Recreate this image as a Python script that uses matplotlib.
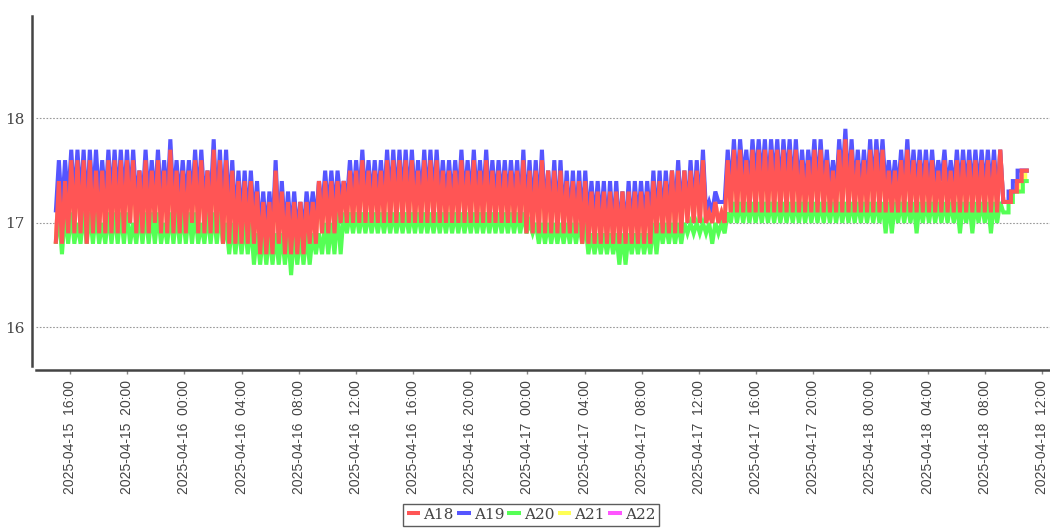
import numpy as np
import matplotlib
matplotlib.use("Agg")
import matplotlib.pyplot as plt

# ---------------- data ----------------
series_names = ["A18", "A19", "A20", "A21", "A22"]
series_colors = ["#FF5555", "#5555FF", "#55FF55", "#FFFF55", "#FF55FF"]

cycle_start = "2025-04-15T15:00"
cycle_minutes = 26          # heating cycle length

a19_peak = [17.6, 17.6, 17.7, 17.7, 17.7, 17.7, 17.7, 17.6, 17.7, 17.7,
            17.7, 17.7, 17.7, 17.5, 17.7, 17.6, 17.7, 17.6, 17.8, 17.6,
            17.6, 17.6, 17.7, 17.7, 17.5, 17.8, 17.7, 17.7, 17.6, 17.5,
            17.5, 17.5, 17.4, 17.3, 17.3, 17.6, 17.4, 17.3, 17.3, 17.2,
            17.3, 17.3, 17.4, 17.5, 17.5, 17.5, 17.4, 17.6, 17.6, 17.7,
            17.6, 17.6, 17.6, 17.7, 17.7, 17.7, 17.7, 17.7, 17.6, 17.7,
            17.7, 17.7, 17.6, 17.6, 17.6, 17.7, 17.6, 17.7, 17.6, 17.7,
            17.6, 17.6, 17.6, 17.6, 17.6, 17.7, 17.6, 17.6, 17.7, 17.5,
            17.6, 17.6, 17.5, 17.5, 17.5, 17.5, 17.4, 17.4, 17.4, 17.4,
            17.4, 17.3, 17.4, 17.4, 17.4, 17.4, 17.5, 17.5, 17.5, 17.5,
            17.6, 17.5, 17.6, 17.6, 17.7, 17.2, 17.3, 17.2, 17.7, 17.8,
            17.8, 17.7, 17.8, 17.8, 17.8, 17.8, 17.8, 17.8, 17.8, 17.8,
            17.7, 17.7, 17.8, 17.8, 17.7, 17.6, 17.8, 17.9, 17.8, 17.7,
            17.7, 17.8, 17.8, 17.8, 17.6, 17.6, 17.7, 17.8, 17.7, 17.7,
            17.7, 17.7, 17.6, 17.7, 17.6, 17.7, 17.7, 17.7, 17.7, 17.7,
            17.7, 17.7, 17.7]
a19_low = [17.1, 17.1, 17.2, 17.2, 17.2, 17.1, 17.2, 17.2, 17.2, 17.2,
           17.2, 17.2, 17.2, 17.2, 17.2, 17.2, 17.2, 17.2, 17.2, 17.2,
           17.2, 17.2, 17.2, 17.2, 17.2, 17.2, 17.1, 17.1, 17.1, 17.0,
           17.0, 17.0, 17.0, 16.9, 16.9, 16.9, 16.9, 16.9, 16.9, 16.9,
           16.9, 17.0, 17.0, 17.1, 17.1, 17.1, 17.2, 17.2, 17.2, 17.2,
           17.2, 17.2, 17.2, 17.2, 17.2, 17.2, 17.2, 17.2, 17.2, 17.2,
           17.2, 17.2, 17.2, 17.2, 17.2, 17.2, 17.2, 17.2, 17.2, 17.2,
           17.2, 17.2, 17.2, 17.2, 17.2, 17.1, 17.1, 17.1, 17.1, 17.1,
           17.1, 17.0, 17.0, 17.0, 17.0, 17.0, 17.0, 17.0, 17.0, 16.9,
           16.9, 16.9, 16.9, 16.9, 17.0, 17.0, 17.0, 17.0, 17.0, 17.1,
           17.1, 17.1, 17.1, 17.1, 17.1, 17.1, 17.1, 17.2, 17.2, 17.3,
           17.3, 17.4, 17.3, 17.4, 17.4, 17.3, 17.4, 17.3, 17.4, 17.3,
           17.3, 17.3, 17.4, 17.3, 17.3, 17.3, 17.3, 17.4, 17.3, 17.3,
           17.3, 17.3, 17.3, 17.4, 17.3, 17.3, 17.3, 17.3, 17.3, 17.3,
           17.3, 17.3, 17.3, 17.4, 17.3, 17.3, 17.3, 17.3, 17.3, 17.3,
           17.3, 17.3, 17.2]
a18_peak = [17.4, 17.4, 17.6, 17.6, 17.6, 17.6, 17.5, 17.5, 17.6, 17.6,
            17.6, 17.6, 17.6, 17.5, 17.6, 17.5, 17.6, 17.5, 17.7, 17.5,
            17.5, 17.5, 17.6, 17.6, 17.5, 17.7, 17.6, 17.6, 17.5, 17.4,
            17.4, 17.4, 17.3, 17.2, 17.2, 17.5, 17.3, 17.2, 17.2, 17.2,
            17.2, 17.2, 17.4, 17.4, 17.4, 17.4, 17.4, 17.5, 17.5, 17.6,
            17.5, 17.5, 17.5, 17.6, 17.6, 17.6, 17.6, 17.6, 17.5, 17.6,
            17.6, 17.6, 17.5, 17.5, 17.5, 17.6, 17.5, 17.6, 17.5, 17.6,
            17.5, 17.5, 17.5, 17.5, 17.5, 17.6, 17.5, 17.5, 17.6, 17.5,
            17.5, 17.5, 17.4, 17.4, 17.4, 17.4, 17.3, 17.3, 17.3, 17.3,
            17.3, 17.3, 17.3, 17.3, 17.3, 17.3, 17.4, 17.4, 17.4, 17.5,
            17.5, 17.5, 17.5, 17.5, 17.6, 17.1, 17.2, 17.1, 17.6, 17.7,
            17.7, 17.6, 17.7, 17.7, 17.7, 17.7, 17.7, 17.7, 17.7, 17.7,
            17.6, 17.6, 17.7, 17.7, 17.6, 17.5, 17.7, 17.8, 17.7, 17.6,
            17.6, 17.7, 17.7, 17.7, 17.5, 17.5, 17.6, 17.7, 17.6, 17.6,
            17.6, 17.6, 17.5, 17.6, 17.5, 17.6, 17.6, 17.6, 17.6, 17.6,
            17.6, 17.6, 17.7]
a18_low = [16.8, 16.8, 16.9, 16.9, 16.9, 16.8, 16.9, 16.9, 16.9, 16.9,
           16.9, 16.9, 17.0, 16.9, 16.9, 16.9, 17.0, 16.9, 16.9, 16.9,
           16.9, 16.9, 17.0, 16.9, 16.9, 16.9, 16.9, 16.8, 16.8, 16.8,
           16.8, 16.8, 16.8, 16.7, 16.7, 16.7, 16.8, 16.7, 16.7, 16.7,
           16.7, 16.8, 16.8, 16.9, 16.9, 16.9, 17.0, 17.0, 17.0, 17.0,
           17.0, 17.0, 17.0, 17.0, 17.0, 17.0, 17.0, 17.0, 17.0, 17.0,
           17.0, 17.0, 17.0, 17.0, 17.0, 17.0, 17.0, 17.0, 17.0, 17.0,
           17.0, 17.0, 17.0, 17.0, 17.0, 17.0, 16.9, 16.9, 16.9, 16.9,
           16.9, 16.9, 16.9, 16.9, 16.9, 16.8, 16.8, 16.8, 16.8, 16.8,
           16.8, 16.8, 16.8, 16.8, 16.8, 16.8, 16.8, 16.9, 16.9, 16.9,
           16.9, 16.9, 17.0, 17.0, 17.0, 17.0, 17.0, 17.0, 17.0, 17.1,
           17.1, 17.1, 17.1, 17.1, 17.1, 17.1, 17.1, 17.1, 17.1, 17.1,
           17.1, 17.1, 17.1, 17.1, 17.1, 17.1, 17.1, 17.1, 17.1, 17.1,
           17.1, 17.1, 17.1, 17.1, 17.1, 17.1, 17.1, 17.1, 17.1, 17.1,
           17.1, 17.1, 17.1, 17.1, 17.1, 17.1, 17.1, 17.1, 17.1, 17.1,
           17.1, 17.1, 17.1]
a20_peak = [17.1, 17.1, 17.1, 17.0, 17.1, 17.1, 17.1, 17.0, 17.1, 17.1,
            17.1, 17.1, 17.0, 17.1, 17.1, 17.1, 17.1, 17.0, 17.1, 17.1,
            17.1, 17.1, 17.1, 17.0, 17.1, 17.1, 17.1, 17.0, 17.0, 17.0,
            17.0, 17.0, 16.9, 16.9, 16.9, 16.9, 16.9, 16.9, 16.9, 16.9,
            16.9, 16.9, 16.9, 17.0, 17.0, 17.1, 17.1, 17.1, 17.1, 17.1,
            17.1, 17.1, 17.1, 17.1, 17.1, 17.1, 17.1, 17.1, 17.1, 17.1,
            17.1, 17.1, 17.1, 17.1, 17.1, 17.1, 17.1, 17.1, 17.1, 17.1,
            17.1, 17.1, 17.1, 17.1, 17.1, 17.1, 17.0, 17.0, 17.0, 17.0,
            17.0, 17.0, 17.0, 17.0, 17.0, 17.0, 16.9, 16.9, 16.9, 16.9,
            16.9, 16.9, 16.9, 16.9, 16.9, 16.9, 17.0, 17.0, 17.0, 17.0,
            17.0, 17.0, 17.0, 17.0, 17.0, 17.0, 17.0, 17.0, 17.1, 17.2,
            17.2, 17.2, 17.2, 17.2, 17.2, 17.2, 17.2, 17.2, 17.2, 17.2,
            17.2, 17.2, 17.2, 17.2, 17.2, 17.2, 17.2, 17.2, 17.2, 17.2,
            17.2, 17.2, 17.2, 17.2, 17.2, 17.2, 17.2, 17.2, 17.2, 17.2,
            17.2, 17.2, 17.2, 17.2, 17.2, 17.2, 17.2, 17.2, 17.2, 17.2,
            17.2, 17.2, 17.2]
a20_low = [16.8, 16.7, 16.8, 16.8, 16.8, 16.8, 16.8, 16.8, 16.8, 16.8,
           16.8, 16.8, 16.8, 16.8, 16.8, 16.8, 16.8, 16.8, 16.8, 16.8,
           16.8, 16.8, 16.8, 16.8, 16.8, 16.8, 16.8, 16.8, 16.7, 16.7,
           16.7, 16.7, 16.6, 16.6, 16.6, 16.6, 16.6, 16.6, 16.5, 16.6,
           16.6, 16.6, 16.7, 16.7, 16.7, 16.7, 16.7, 16.9, 16.9, 16.9,
           16.9, 16.9, 16.9, 16.9, 16.9, 16.9, 16.9, 16.9, 16.9, 16.9,
           16.9, 16.9, 16.9, 16.9, 16.9, 16.9, 16.9, 16.9, 16.9, 16.9,
           16.9, 16.9, 16.9, 16.9, 16.9, 16.9, 16.9, 16.9, 16.8, 16.8,
           16.8, 16.8, 16.8, 16.8, 16.8, 16.8, 16.7, 16.7, 16.7, 16.7,
           16.7, 16.6, 16.6, 16.7, 16.7, 16.7, 16.7, 16.7, 16.8, 16.8,
           16.8, 16.8, 16.9, 16.9, 16.9, 16.9, 16.8, 16.9, 16.9, 17.0,
           17.0, 17.0, 17.0, 17.0, 17.0, 17.0, 17.0, 17.0, 17.0, 17.0,
           17.0, 17.0, 17.0, 17.0, 17.0, 17.0, 17.0, 17.0, 17.0, 17.0,
           17.0, 17.0, 17.0, 17.0, 16.9, 16.9, 17.0, 17.0, 17.0, 16.9,
           17.0, 17.0, 17.0, 17.0, 17.0, 17.0, 16.9, 17.0, 16.9, 17.0,
           17.0, 16.9, 17.0]
# A21 and A22 lie under A18 for the whole oscillating part
a21_peak = list(a18_peak)
a21_low = list(a18_low)
a22_peak = list(a18_peak)
a22_low = list(a18_low)

# final slow rise at the end of the record (step changes)
tail_a18_times = ["2025-04-18T09:18", "2025-04-18T09:50", "2025-04-18T10:15", "2025-04-18T10:35", "2025-04-18T11:05"]
tail_a18_vals = [17.2, 17.3, 17.4, 17.5, 17.5]
tail_a19_times = ["2025-04-18T09:18", "2025-04-18T09:40", "2025-04-18T09:58", "2025-04-18T10:18", "2025-04-18T11:05"]
tail_a19_vals = [17.2, 17.3, 17.4, 17.5, 17.5]
tail_a20_times = ["2025-04-18T09:18", "2025-04-18T09:40", "2025-04-18T09:58", "2025-04-18T10:40", "2025-04-18T11:05"]
tail_a20_vals = [17.1, 17.2, 17.3, 17.4, 17.4]
tail_a21_times = ["2025-04-18T09:18", "2025-04-18T09:55", "2025-04-18T10:22", "2025-04-18T10:50", "2025-04-18T11:05"]
tail_a21_vals = [17.2, 17.3, 17.4, 17.5, 17.5]
tail_a22_times = tail_a18_times
tail_a22_vals = tail_a18_vals

x_tick_start = "2025-04-15T16:00"
x_tick_end = "2025-04-18T12:00"
x_tick_hours = 4
y_ticks = [16, 17, 18]
x_limits = ("2025-04-15T13:37", "2025-04-18T12:34")
y_limits = (15.63, 18.98)

# ---------------- build lines ----------------
t0 = np.datetime64(cycle_start)
period = np.timedelta64(cycle_minutes, "m")
half = np.timedelta64(cycle_minutes * 30, "s")


def to_obj(a):
    return np.asarray(a, dtype="datetime64[s]").astype("datetime64[ms]").astype(object)


def build(peaks, lows, tail_t, tail_v):
    xs, ys = [], []
    for k, (p, lo) in enumerate(zip(peaks, lows)):
        tk = t0 + k * period
        xs += [tk, tk + half]
        ys += [lo, p]
    tt = [np.datetime64(s) for s in tail_t]
    for i in range(len(tt)):
        xs.append(tt[i])
        ys.append(tail_v[i])
        if i + 1 < len(tt):
            xs.append(tt[i + 1])
            ys.append(tail_v[i])
    return to_obj(xs), np.array(ys)


lines = {
    "A18": build(a18_peak, a18_low, tail_a18_times, tail_a18_vals),
    "A19": build(a19_peak, a19_low, tail_a19_times, tail_a19_vals),
    "A20": build(a20_peak, a20_low, tail_a20_times, tail_a20_vals),
    "A21": build(a21_peak, a21_low, tail_a21_times, tail_a21_vals),
    "A22": build(a22_peak, a22_low, tail_a22_times, tail_a22_vals),
}

# ---------------- figure ----------------
plt.rcParams["font.family"] = ["Liberation Sans", "DejaVu Sans"]
W, H = 1050, 530
fig = plt.figure(figsize=(W / 100, H / 100), dpi=100)
ax = fig.add_axes([36 / W, 1 - 366 / H, (W - 36) / W, 350 / H])

handles = {}
for name in ["A22", "A21", "A20", "A19", "A18"]:
    c = series_colors[series_names.index(name)]
    xs, ys = lines[name]
    h, = ax.plot(xs, ys, color=c, lw=2.9,
                 solid_joinstyle="miter", solid_capstyle="butt")
    handles[name] = h

ax.set_xlim(to_obj([np.datetime64(x_limits[0])])[0], to_obj([np.datetime64(x_limits[1])])[0])
ax.set_ylim(*y_limits)

ticks = to_obj(np.arange(np.datetime64(x_tick_start), np.datetime64(x_tick_end) + np.timedelta64(1, "m"),
                         np.timedelta64(x_tick_hours, "h")))
tick_labels = [t.strftime("%Y-%m-%d  %H:%M") for t in ticks]
ax.set_xticks(list(ticks))
ax.set_xticklabels(tick_labels)
ax.set_yticks(y_ticks)
ax.set_yticklabels([str(v) for v in y_ticks])

ax.tick_params(axis="x", length=3, width=1, color="#888888", pad=4, direction="out",
               labelrotation=90, labelsize=10, labelcolor="#444444")
ax.tick_params(axis="y", length=0, pad=5, labelsize=11, labelcolor="#444444")

ax.grid(axis="y", color="#999999", linestyle=(0, (1.5, 1.5)), linewidth=0.8)
ax.set_axisbelow(True)

for s in ["top", "right"]:
    ax.spines[s].set_visible(False)
ax.spines["left"].set_position(("outward", 3))
ax.spines["bottom"].set_position(("outward", 3))
for s in ["left", "bottom"]:
    ax.spines[s].set_color("#444444")
    ax.spines[s].set_linewidth(1.8)

leg = fig.legend([handles[n] for n in series_names], series_names,
                 loc="upper center", bbox_to_anchor=(531 / W, 1 - 504 / H),
                 ncol=5, frameon=True, fancybox=False, handlelength=0.9,
                 handletextpad=0.2, columnspacing=0.2, borderpad=0.25,
                 borderaxespad=0, prop={"family": "DejaVu Serif", "size": 11})
leg.get_frame().set_edgecolor("#333333")
leg.get_frame().set_linewidth(1.0)
for t in leg.get_texts():
    t.set_color("#444444")

fig.canvas.draw()
for lbl in ax.get_yticklabels():
    lbl.set_fontfamily("DejaVu Serif")

fig.savefig("out.png", dpi=100)
